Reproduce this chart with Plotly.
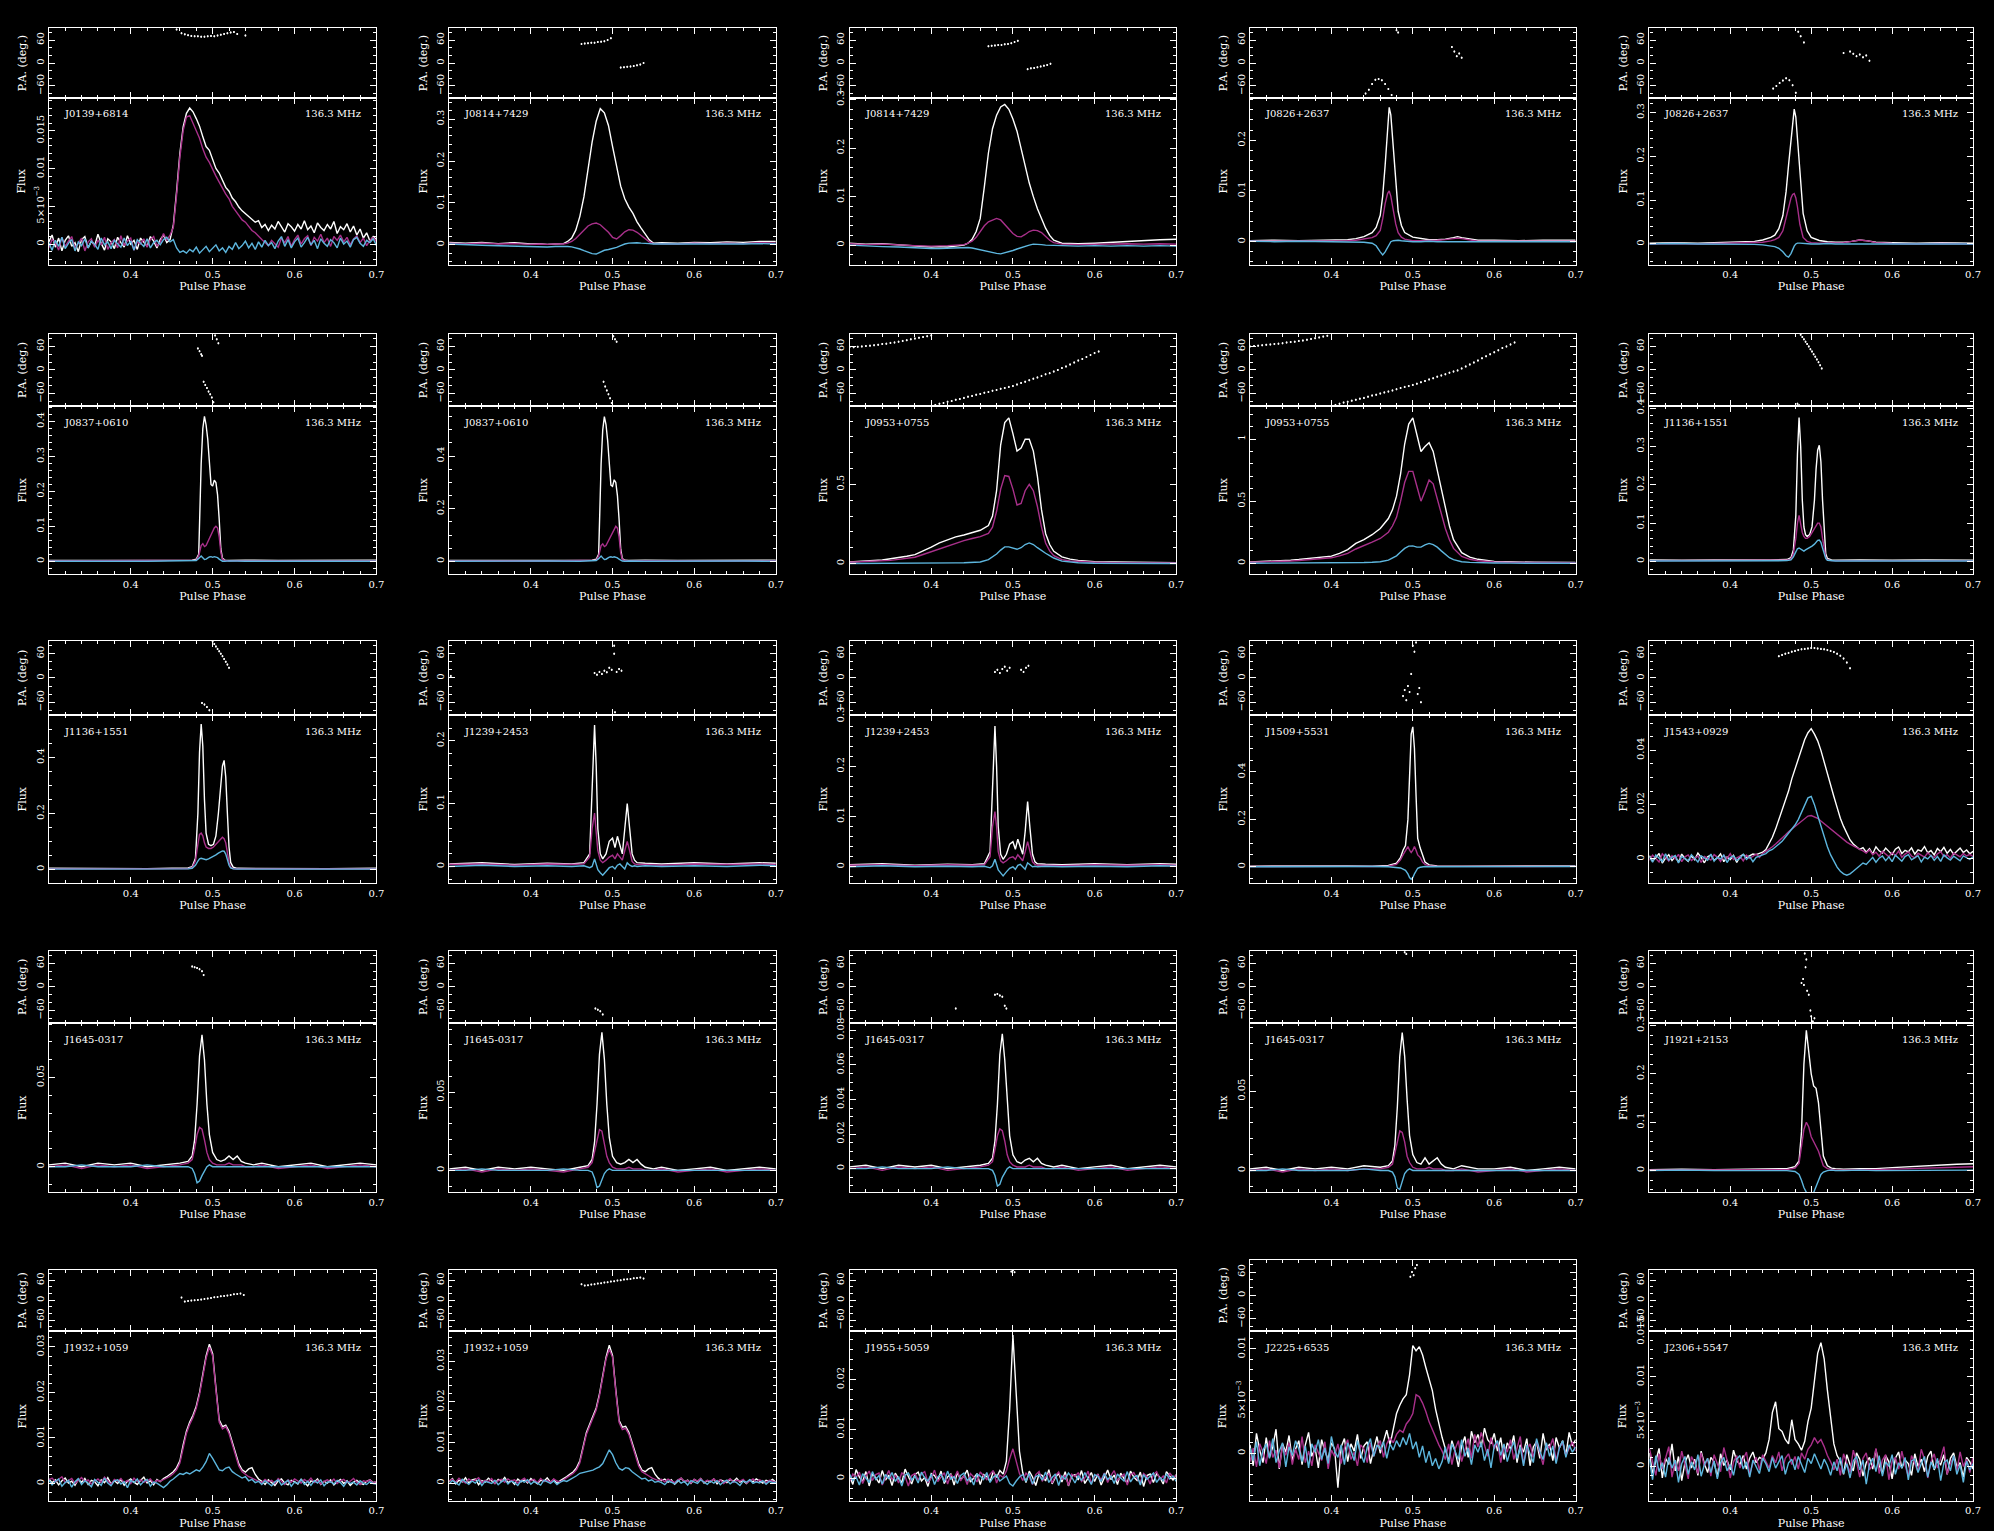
import numpy as np
import plotly.graph_objects as go

# ---------------------------------------------------------------------------
# Pulse profiles at 136.3 MHz: total intensity (I), linear (L), circular (V)
# and polarisation position angle (P.A.) for each observation.
# ---------------------------------------------------------------------------

PSR_NAMES = ["J0139+6814", "J0814+7429", "J0814+7429", "J0826+2637", "J0826+2637",
             "J0837+0610", "J0837+0610", "J0953+0755", "J0953+0755", "J1136+1551",
             "J1136+1551", "J1239+2453", "J1239+2453", "J1509+5531", "J1543+0929",
             "J1645-0317", "J1645-0317", "J1645-0317", "J1645-0317", "J1921+2153",
             "J1932+1059", "J1932+1059", "J1955+5059", "J2225+6535", "J2306+5547"]
FREQ_LABEL = "136.3 MHz"

# 101 phase bins used by the low S/N profiles
PHASE_101 = np.round(np.linspace(0.3, 0.7, 101), 3)

# --- J0139+6814 (flux in units of 1e-3) ---
p01_I = [0.3, 1.2, -0.4, 0.8, -0.9, 0.5, 1.1, -0.3, 0.2, -1.0, 0.6, 1.0, -0.5, 0.4, -0.2, 1.3, 0.1, -0.8, 0.7, 0.3,
         -0.6, 0.9, 0.2, -0.4, 1.1, 0.0, 0.5, -0.7, 0.8, 0.3, -0.3, 1.0, 0.4, -0.5, 0.6, 1.2, 0.2, 0.6,
         2.5, 7.0, 12.0, 15.5, 17.3, 18.0, 17.5, 16.6, 15.6, 14.2, 12.9, 12.4, 11.2, 10.0, 9.4, 8.5, 7.5, 7.0, 6.1, 5.6,
         4.9, 4.4, 4.0, 3.6, 3.3, 2.9, 3.1, 2.2, 2.6, 1.8, 2.5, 2.0, 3.0, 2.2, 1.6, 2.7, 2.3, 1.7, 2.6, 2.0,
         3.1, 1.9, 2.4, 1.5, 2.8, 2.2, 1.8, 2.6, 2.0, 3.0, 1.4, 2.3, 1.9, 2.7, 1.6, 2.4, 1.2, 2.0, 0.8, 1.5, 0.4, 1.0, 0.6]
p01_L = [-0.5, 0.6, 0.2, -0.8, 0.9, -0.3, 0.4, 1.0, -0.6, 0.1, 0.8, -0.9, 0.3, 0.7, -0.4, 0.5, -0.1, 0.9, -0.7, 0.2,
         0.6, -0.5, 1.1, -0.2, 0.4, 0.8, -0.8, 0.3, 0.0, 0.7, -0.4, 0.6, 1.0, -0.3, 0.2, 1.4, 0.5, 1.2,
         2.2, 6.5, 11.5, 15.0, 16.8, 17.0, 16.0, 15.0, 14.0, 12.6, 11.5, 10.8, 9.8, 9.0, 8.2, 7.3, 6.6, 6.0, 5.0, 4.4,
         3.8, 3.2, 2.9, 2.4, 1.8, 1.5, 1.0, 0.6, 0.2, -0.2, 0.5, 0.1, -0.4, 0.8, 0.2, 1.0, -0.3, 0.6, 1.2, 0.0,
         0.7, 1.1, -0.2, 0.9, 0.4, 1.3, 0.2, 0.8, -0.3, 1.0, 0.5, 1.2, 0.3, 0.9, -0.1, 0.7, 1.1, 0.2, 0.8, -0.2, 0.5, 0.9, 0.3]
p01_V = [0.2, -0.8, 0.5, -0.3, 0.9, -0.6, 0.1, 0.6, -0.9, 0.3, -0.2, 0.7, -0.5, 0.4, 0.0, -0.7, 0.8, -0.1, 0.3, -0.6,
         0.5, 0.1, -0.4, 0.8, -0.2, 0.4, -0.8, 0.6, 0.1, -0.3, 0.7, -0.5, 0.2, 0.5, -0.1, 0.6, 0.9, 0.3,
         0.6, -0.5, -1.1, -0.9, -1.2, -0.7, -1.0, -0.4, -1.2, -0.8, -0.3, -1.0, -0.6, -0.1, -0.9, -0.5, -1.1, -0.3, -0.7, 0.2,
         -0.6, -0.2, 0.4, -0.5, 0.1, -0.7, 0.3, -0.4, 0.5, -0.2, 0.2, -0.6, 0.4, 1.0, -0.3, 0.6, -0.5, 0.3, 0.8, -0.4,
         0.2, 0.9, -0.1, 0.5, -0.6, 0.7, 0.1, -0.3, 0.6, 0.2, -0.5, 0.8, 0.0, 0.4, -0.4, 0.6, 0.9, 0.1, -0.3, 0.5, 0.2, 0.7, -0.2]
p01_pa_phase = [0.456, 0.462, 0.466, 0.47, 0.474, 0.478, 0.482, 0.486, 0.49, 0.494, 0.498, 0.502, 0.506, 0.51, 0.514,
                0.518, 0.522, 0.526, 0.53, 0.54]
p01_pa = [88, 78, 75, 73, 71, 70, 70, 69, 69, 70, 71, 70, 72, 74, 76, 78, 80, 81, 76, 72]

# --- J0814+7429 (two observations) ---
p02_phase = [0.3, 0.32, 0.34, 0.36, 0.38, 0.4, 0.41, 0.42, 0.43, 0.44, 0.445, 0.45, 0.455, 0.46, 0.465, 0.47, 0.475,
             0.48, 0.485, 0.49, 0.495, 0.5, 0.505, 0.51, 0.515, 0.52, 0.525, 0.53, 0.535, 0.54, 0.545, 0.55, 0.56,
             0.58, 0.6, 0.62, 0.64, 0.66, 0.68, 0.7]
p02_I = [0.006, 0.004, 0.006, 0.003, 0.005, 0.002, 0.003, 0.001, 0.002, 0.003, 0.008, 0.016, 0.035, 0.068, 0.115, 0.18,
         0.245, 0.295, 0.325, 0.315, 0.285, 0.235, 0.19, 0.14, 0.11, 0.09, 0.075, 0.055, 0.04, 0.025, 0.012, 0.004,
         0.005, 0.004, 0.006, 0.005, 0.007, 0.006, 0.008, 0.008]
p02_L = [0.004, 0.002, 0.004, 0.002, 0.003, 0.001, 0.002, 0.001, 0.002, 0.002, 0.004, 0.008, 0.015, 0.025, 0.035, 0.045,
         0.05, 0.052, 0.048, 0.04, 0.03, 0.018, 0.014, 0.022, 0.031, 0.036, 0.035, 0.03, 0.022, 0.014, 0.007, 0.003,
         0.003, 0.002, 0.004, 0.003, 0.004, 0.003, 0.005, 0.004]
p02_V = [0.002, 0.0, -0.001, -0.002, -0.003, -0.004, -0.005, -0.005, -0.004, -0.003, -0.004, -0.005, -0.007, -0.01,
         -0.014, -0.018, -0.021, -0.022, -0.018, -0.013, -0.011, -0.009, -0.006, -0.002, 0.002, 0.004, 0.005, 0.005,
         0.004, 0.004, 0.003, 0.002, 0.002, 0.001, 0.002, 0.001, 0.002, 0.002, 0.003, 0.002]
p02_pa_phase = [0.462, 0.466, 0.47, 0.474, 0.478, 0.482, 0.486, 0.49, 0.494, 0.498, 0.51, 0.514, 0.518, 0.522, 0.526,
                0.53, 0.534, 0.538]
p02_pa = [50, 51, 52, 53, 53, 55, 56, 57, 60, 65, -12, -11, -10, -9, -8, -6, -4, 0]

p03_phase = p02_phase
p03_I = [0.004, 0.002, 0.003, 0.001, -0.002, -0.004, -0.003, -0.004, -0.002, 0.0, 0.004, 0.012, 0.028, 0.055, 0.12,
         0.19, 0.24, 0.268, 0.285, 0.29, 0.28, 0.26, 0.235, 0.2, 0.16, 0.128, 0.1, 0.075, 0.055, 0.035, 0.02, 0.01,
         0.004, 0.003, 0.004, 0.006, 0.008, 0.009, 0.011, 0.012]
p03_L = [0.003, 0.001, 0.002, 0.0, -0.001, -0.002, -0.002, -0.001, 0.0, 0.001, 0.004, 0.008, 0.016, 0.028, 0.04, 0.048,
         0.052, 0.055, 0.052, 0.042, 0.032, 0.024, 0.018, 0.017, 0.022, 0.028, 0.031, 0.03, 0.026, 0.018, 0.01, 0.005,
         0.002, 0.001, 0.002, 0.002, 0.003, 0.002, 0.003, 0.002]
p03_V = [0.0, -0.002, -0.003, -0.004, -0.006, -0.007, -0.007, -0.006, -0.005, -0.004, -0.005, -0.006, -0.008, -0.01,
         -0.012, -0.014, -0.016, -0.017, -0.018, -0.016, -0.013, -0.011, -0.008, -0.005, -0.002, 0.0, 0.002, 0.002,
         0.001, 0.0, 0.0, -0.001, -0.001, -0.002, -0.001, -0.002, -0.001, -0.002, -0.001, -0.002]
p03_pa_phase = [0.47, 0.474, 0.478, 0.482, 0.486, 0.49, 0.494, 0.498, 0.502, 0.506, 0.518, 0.522, 0.526, 0.53, 0.534,
                0.538, 0.542, 0.546]
p03_pa = [44, 45, 46, 47, 47, 49, 50, 52, 55, 58, -16, -14, -13, -11, -9, -7, -5, -2]

# --- J0826+2637 (two observations) ---
p04_phase = [0.3, 0.33, 0.36, 0.39, 0.42, 0.43, 0.44, 0.45, 0.455, 0.46, 0.463, 0.466, 0.469, 0.471, 0.473, 0.476,
             0.479, 0.482, 0.486, 0.49, 0.5, 0.51, 0.52, 0.53, 0.54, 0.55, 0.555, 0.56, 0.57, 0.58, 0.6, 0.63, 0.66, 0.7]
p04_I = [0.002, 0.003, 0.002, 0.003, 0.004, 0.006, 0.01, 0.018, 0.028, 0.052, 0.09, 0.15, 0.22, 0.265, 0.25, 0.18,
         0.11, 0.06, 0.032, 0.018, 0.009, 0.006, 0.004, 0.004, 0.005, 0.008, 0.01, 0.008, 0.005, 0.003, 0.003, 0.002,
         0.003, 0.003]
p04_L = [0.001, 0.001, 0.001, 0.002, 0.002, 0.003, 0.005, 0.008, 0.012, 0.022, 0.045, 0.075, 0.095, 0.1, 0.09, 0.06,
         0.035, 0.018, 0.009, 0.005, 0.002, 0.002, 0.002, 0.003, 0.004, 0.006, 0.007, 0.006, 0.003, 0.001, 0.001,
         0.001, 0.001, 0.001]
p04_V = [0.001, 0.0, 0.001, 0.0, 0.0, 0.0, -0.001, -0.003, -0.008, -0.02, -0.026, -0.02, -0.01, -0.004, 0.0, 0.002,
         0.003, 0.003, 0.002, 0.001, 0.0, 0.0, 0.001, 0.0, 0.0, 0.0, 0.001, 0.0, 0.0, 0.0, 0.001, 0.0, 0.0, 0.0]
p04_pa_phase = [0.442, 0.446, 0.45, 0.454, 0.458, 0.462, 0.466, 0.47, 0.474, 0.48, 0.482, 0.548, 0.551, 0.554, 0.557, 0.56]
p04_pa = [-80, -70, -55, -44, -42, -45, -55, -68, -84, 86, 80, 42, 30, 18, 25, 14]

p05_phase = [0.3, 0.33, 0.36, 0.39, 0.42, 0.43, 0.44, 0.45, 0.455, 0.46, 0.465, 0.469, 0.472, 0.475, 0.477, 0.479,
             0.481, 0.483, 0.486, 0.49, 0.495, 0.5, 0.51, 0.52, 0.53, 0.54, 0.55, 0.56, 0.57, 0.58, 0.6, 0.63, 0.66, 0.7]
p05_I = [0.002, 0.003, 0.002, 0.003, 0.004, 0.006, 0.009, 0.015, 0.02, 0.035, 0.065, 0.12, 0.18, 0.24, 0.285, 0.308,
         0.29, 0.24, 0.15, 0.07, 0.03, 0.015, 0.008, 0.005, 0.004, 0.004, 0.006, 0.009, 0.007, 0.004, 0.003, 0.002,
         0.003, 0.002]
p05_L = [0.0, 0.001, 0.0, 0.001, 0.002, 0.003, 0.004, 0.007, 0.01, 0.015, 0.03, 0.06, 0.085, 0.105, 0.113, 0.115,
         0.105, 0.085, 0.045, 0.015, 0.006, 0.003, 0.002, 0.002, 0.002, 0.003, 0.006, 0.009, 0.007, 0.003, 0.001, 0.0,
         0.001, 0.0]
p05_V = [0.0, 0.001, 0.0, 0.0, 0.0, -0.001, -0.002, -0.004, -0.006, -0.01, -0.018, -0.027, -0.03, -0.022, -0.012,
         -0.005, 0.0, 0.002, 0.002, 0.001, 0.0, 0.0, 0.0, 0.001, 0.0, 0.0, 0.0, 0.0, 0.001, 0.0, 0.0, 0.0, 0.0, 0.0]
p05_pa_phase = [0.453, 0.457, 0.461, 0.465, 0.469, 0.473, 0.477, 0.481, 0.484, 0.487, 0.491, 0.54, 0.548, 0.552, 0.556,
                0.56, 0.564, 0.568, 0.572]
p05_pa = [-67, -60, -52, -46, -40, -45, -58, -78, 82, 70, 54, 26, 30, 24, 18, 22, 15, 20, 6]

# --- J0837+0610 (two observations) ---
p06_phase = [0.3, 0.34, 0.38, 0.42, 0.46, 0.475, 0.48, 0.483, 0.486, 0.488, 0.49, 0.492, 0.494, 0.496, 0.498, 0.5,
             0.502, 0.504, 0.506, 0.508, 0.51, 0.512, 0.515, 0.52, 0.54, 0.58, 0.62, 0.66, 0.7]
p06_I = [0.002, 0.003, 0.002, 0.002, 0.003, 0.003, 0.006, 0.02, 0.28, 0.38, 0.415, 0.39, 0.35, 0.28, 0.22, 0.215,
         0.232, 0.225, 0.19, 0.12, 0.035, 0.008, 0.003, 0.002, 0.003, 0.002, 0.003, 0.002, 0.003]
p06_L = [0.001, 0.001, 0.001, 0.001, 0.001, 0.002, 0.003, 0.015, 0.045, 0.05, 0.042, 0.045, 0.055, 0.065, 0.075, 0.085,
         0.095, 0.1, 0.095, 0.07, 0.025, 0.005, 0.002, 0.001, 0.001, 0.001, 0.001, 0.001, 0.001]
p06_V = [0.0, 0.001, 0.0, 0.0, 0.001, 0.0, 0.002, 0.008, 0.015, 0.01, 0.005, 0.006, 0.01, 0.012, 0.013, 0.011, 0.013,
         0.012, 0.01, 0.006, 0.002, 0.0, 0.0, 0.001, 0.0, 0.0, 0.001, 0.0, 0.0]
p06_pa_phase = [0.482, 0.484, 0.486, 0.487, 0.489, 0.491, 0.493, 0.495, 0.497, 0.499, 0.501, 0.503, 0.505, 0.507]
p06_pa = [55, 48, 40, 36, -30, -38, -46, -55, -62, -70, -82, 88, 78, 68]

p07_phase = p06_phase
p07_I = [0.003, 0.004, 0.003, 0.003, 0.004, 0.004, 0.008, 0.027, 0.37, 0.5, 0.55, 0.52, 0.46, 0.37, 0.29, 0.285, 0.31,
         0.3, 0.25, 0.16, 0.046, 0.01, 0.004, 0.003, 0.004, 0.003, 0.004, 0.003, 0.004]
p07_L = [0.001, 0.002, 0.001, 0.001, 0.002, 0.003, 0.004, 0.02, 0.06, 0.066, 0.056, 0.06, 0.073, 0.086, 0.1, 0.113,
         0.126, 0.133, 0.126, 0.093, 0.033, 0.007, 0.003, 0.001, 0.002, 0.001, 0.002, 0.001, 0.002]
p07_V = [0.0, 0.001, 0.0, 0.001, 0.0, 0.001, 0.003, 0.01, 0.02, 0.013, 0.007, 0.008, 0.013, 0.016, 0.017, 0.015, 0.017,
         0.016, 0.013, 0.008, 0.003, 0.001, 0.0, 0.001, 0.0, 0.001, 0.0, 0.001, 0.0]
p07_pa_phase = [0.489, 0.491, 0.493, 0.495, 0.497, 0.499, 0.501, 0.503, 0.505]
p07_pa = [-30, -42, -52, -62, -72, -84, 86, 78, 72]

# --- J0953+0755 (two observations) ---
p08_phase = [0.3, 0.32, 0.34, 0.35, 0.36, 0.37, 0.38, 0.39, 0.4, 0.41, 0.42, 0.43, 0.44, 0.45, 0.46, 0.47, 0.475, 0.48,
             0.485, 0.49, 0.495, 0.5, 0.505, 0.51, 0.515, 0.52, 0.525, 0.53, 0.535, 0.54, 0.545, 0.55, 0.56, 0.57,
             0.58, 0.6, 0.62, 0.65, 0.7]
p08_I = [0.01, 0.015, 0.022, 0.03, 0.037, 0.046, 0.056, 0.078, 0.104, 0.13, 0.15, 0.168, 0.18, 0.195, 0.21, 0.24, 0.3,
         0.46, 0.75, 0.89, 0.92, 0.82, 0.71, 0.73, 0.785, 0.785, 0.71, 0.55, 0.34, 0.19, 0.12, 0.077, 0.042, 0.028,
         0.02, 0.012, 0.01, 0.008, 0.006]
p08_L = [0.008, 0.011, 0.016, 0.02, 0.026, 0.033, 0.04, 0.057, 0.075, 0.095, 0.11, 0.13, 0.145, 0.158, 0.17, 0.19,
         0.23, 0.33, 0.47, 0.555, 0.55, 0.47, 0.37, 0.38, 0.46, 0.5, 0.46, 0.36, 0.23, 0.13, 0.08, 0.05, 0.025,
         0.016, 0.012, 0.008, 0.006, 0.005, 0.004]
p08_V = [0.0, 0.0, 0.001, 0.001, 0.001, 0.002, 0.002, 0.002, 0.003, 0.003, 0.004, 0.004, 0.005, 0.006, 0.01, 0.025,
         0.04, 0.06, 0.085, 0.105, 0.105, 0.095, 0.09, 0.1, 0.12, 0.13, 0.12, 0.1, 0.08, 0.065, 0.05, 0.035, 0.015,
         0.008, 0.005, 0.002, 0.001, 0.0, 0.0]
p08_pa_phase = [0.3, 0.305, 0.31, 0.315, 0.32, 0.325, 0.33, 0.335, 0.34, 0.345, 0.35, 0.355, 0.36, 0.365, 0.37, 0.375,
                0.38, 0.385, 0.39, 0.395, 0.4,
                0.405, 0.41, 0.415, 0.42, 0.425, 0.43, 0.435, 0.44, 0.445, 0.45, 0.455, 0.46, 0.465, 0.47, 0.475,
                0.48, 0.485, 0.49, 0.495, 0.5, 0.505, 0.51, 0.515, 0.52, 0.525, 0.53, 0.535, 0.54, 0.545, 0.55,
                0.555, 0.56, 0.565, 0.57, 0.575, 0.58, 0.585, 0.59, 0.595, 0.6, 0.605]
p08_pa = [58, 58, 59, 60, 61, 62, 63, 64, 66, 67, 69, 70, 72, 74, 76, 78, 80, 82, 84, 86, 88,
          -89, -86, -84, -81, -79, -76, -74, -71, -68, -66, -63, -61, -58, -56, -53, -51, -48, -46, -43, -41,
          -37, -33, -30, -26, -22, -19, -15, -11, -8, -4, 0, 5, 9, 14, 19, 24, 28, 33, 38, 43, 47]

p09_phase = p08_phase
p09_I = [0.01, 0.014, 0.02, 0.025, 0.03, 0.037, 0.045, 0.05, 0.058, 0.08, 0.11, 0.16, 0.19, 0.23, 0.28, 0.36, 0.43,
         0.54, 0.72, 0.96, 1.12, 1.17, 1.04, 0.9, 0.94, 0.97, 0.9, 0.75, 0.6, 0.43, 0.3, 0.19, 0.085, 0.05, 0.032,
         0.015, 0.01, 0.008, 0.006]
p09_L = [0.008, 0.01, 0.014, 0.018, 0.022, 0.027, 0.033, 0.037, 0.044, 0.06, 0.08, 0.115, 0.14, 0.17, 0.2, 0.25, 0.3,
         0.37, 0.5, 0.65, 0.74, 0.74, 0.62, 0.5, 0.58, 0.67, 0.64, 0.52, 0.4, 0.28, 0.19, 0.12, 0.055, 0.032, 0.02,
         0.01, 0.007, 0.006, 0.004]
p09_V = [0.0, 0.0, 0.001, 0.001, 0.001, 0.002, 0.002, 0.002, 0.003, 0.003, 0.004, 0.005, 0.006, 0.008, 0.012, 0.025,
         0.04, 0.06, 0.09, 0.12, 0.138, 0.14, 0.13, 0.13, 0.148, 0.16, 0.15, 0.13, 0.1, 0.07, 0.045, 0.03, 0.012,
         0.007, 0.004, 0.002, 0.001, 0.0, 0.0]
p09_pa_phase = [0.3, 0.305, 0.31, 0.315, 0.32, 0.325, 0.33, 0.335, 0.34, 0.345, 0.35, 0.355, 0.36, 0.365, 0.37, 0.375,
                0.38, 0.385, 0.39, 0.395,
                0.405, 0.41, 0.415, 0.42, 0.425, 0.43, 0.435, 0.44, 0.445, 0.45, 0.455, 0.46, 0.465, 0.47, 0.475,
                0.48, 0.485, 0.49, 0.495, 0.5, 0.505, 0.51, 0.515, 0.52, 0.525, 0.53, 0.535, 0.54, 0.545, 0.55,
                0.555, 0.56, 0.565, 0.57, 0.575, 0.58, 0.585, 0.59, 0.595, 0.6, 0.605, 0.61, 0.615, 0.62, 0.625]
p09_pa = [60, 61, 62, 63, 64, 65, 66, 67, 68, 70, 71, 72, 74, 75, 77, 79, 81, 83, 85, 87,
          -89, -86, -83, -81, -78, -76, -73, -71, -68, -65, -63, -60, -57, -55, -52, -49, -46, -43, -41, -38,
          -35, -31, -28, -24, -21, -17, -14, -11, -7, -4, -1, 4, 9, 14, 19, 24, 30, 35, 40, 45, 50, 56, 60, 65, 70]

# --- J1136+1551 (two observations) ---
p10_phase = [0.3, 0.34, 0.38, 0.42, 0.45, 0.47, 0.475, 0.478, 0.481, 0.483, 0.485, 0.487, 0.489, 0.491, 0.493, 0.495,
             0.498, 0.501, 0.504, 0.506, 0.508, 0.51, 0.512, 0.514, 0.516, 0.518, 0.52, 0.525, 0.53, 0.56, 0.6, 0.64, 0.7]
p10_I = [0.004, 0.003, 0.004, 0.003, 0.004, 0.005, 0.01, 0.03, 0.12, 0.28, 0.375, 0.3, 0.16, 0.09, 0.07, 0.065, 0.07,
         0.09, 0.16, 0.24, 0.29, 0.303, 0.26, 0.16, 0.07, 0.02, 0.008, 0.004, 0.003, 0.004, 0.003, 0.004, 0.003]
p10_L = [0.002, 0.002, 0.002, 0.002, 0.002, 0.003, 0.006, 0.02, 0.06, 0.1, 0.12, 0.1, 0.075, 0.065, 0.06, 0.06, 0.065,
         0.075, 0.085, 0.095, 0.1, 0.1, 0.09, 0.06, 0.03, 0.01, 0.004, 0.002, 0.002, 0.002, 0.002, 0.002, 0.002]
p10_V = [0.001, 0.001, 0.002, 0.001, 0.002, 0.002, 0.004, 0.012, 0.025, 0.033, 0.035, 0.032, 0.028, 0.027, 0.03,
         0.032, 0.035, 0.04, 0.045, 0.05, 0.055, 0.056, 0.05, 0.035, 0.02, 0.008, 0.003, 0.001, 0.001, 0.001, 0.001,
         0.001, 0.001]
p10_pa_phase = [0.483, 0.485, 0.487, 0.489, 0.491, 0.493, 0.495, 0.497, 0.499, 0.501, 0.503, 0.505, 0.507, 0.509,
                0.511, 0.513]
p10_pa = [-86, -90, 90, 84, 78, 72, 66, 60, 53, 47, 40, 34, 27, 20, 12, 4]

p11_phase = [0.3, 0.34, 0.38, 0.42, 0.45, 0.47, 0.475, 0.479, 0.482, 0.484, 0.486, 0.488, 0.49, 0.492, 0.495, 0.498,
             0.501, 0.504, 0.507, 0.51, 0.512, 0.514, 0.516, 0.518, 0.52, 0.522, 0.525, 0.53, 0.56, 0.6, 0.64, 0.7]
p11_I = [0.004, 0.003, 0.004, 0.003, 0.004, 0.005, 0.01, 0.04, 0.2, 0.42, 0.52, 0.44, 0.25, 0.13, 0.09, 0.085, 0.09,
         0.12, 0.2, 0.31, 0.37, 0.39, 0.33, 0.2, 0.08, 0.025, 0.008, 0.004, 0.003, 0.004, 0.003, 0.004]
p11_L = [0.002, 0.002, 0.002, 0.002, 0.002, 0.003, 0.006, 0.03, 0.09, 0.125, 0.13, 0.12, 0.095, 0.08, 0.075, 0.075,
         0.08, 0.09, 0.1, 0.11, 0.115, 0.11, 0.095, 0.06, 0.025, 0.008, 0.003, 0.002, 0.002, 0.002, 0.002, 0.002]
p11_V = [0.001, 0.001, 0.002, 0.001, 0.002, 0.002, 0.004, 0.015, 0.03, 0.038, 0.04, 0.038, 0.035, 0.035, 0.038, 0.042,
         0.047, 0.052, 0.058, 0.063, 0.066, 0.065, 0.055, 0.035, 0.015, 0.005, 0.002, 0.001, 0.001, 0.001, 0.001,
         0.001]
p11_pa_phase = [0.487, 0.49, 0.493, 0.496, 0.5, 0.502, 0.504, 0.506, 0.508, 0.51, 0.512, 0.514, 0.516, 0.518, 0.52]
p11_pa = [-62, -66, -72, -80, 90, 84, 78, 72, 66, 60, 54, 47, 40, 33, 25]

# --- J1239+2453 (two observations) ---
p12_phase = [0.3, 0.34, 0.38, 0.42, 0.45, 0.465, 0.472, 0.475, 0.478, 0.48, 0.482, 0.485, 0.488, 0.492, 0.496, 0.5,
             0.503, 0.506, 0.509, 0.512, 0.515, 0.518, 0.521, 0.524, 0.527, 0.53, 0.54, 0.56, 0.6, 0.64, 0.68, 0.7]
p12_I = [0.004, 0.006, 0.003, 0.005, 0.004, 0.006, 0.02, 0.12, 0.225, 0.16, 0.06, 0.02, 0.012, 0.02, 0.04, 0.045,
         0.03, 0.048, 0.035, 0.02, 0.06, 0.1, 0.06, 0.02, 0.01, 0.006, 0.005, 0.004, 0.006, 0.004, 0.006, 0.005]
p12_L = [0.003, 0.004, 0.002, 0.004, 0.003, 0.004, 0.015, 0.06, 0.085, 0.06, 0.025, 0.01, 0.006, 0.01, 0.015, 0.018,
         0.012, 0.02, 0.015, 0.01, 0.025, 0.04, 0.025, 0.008, 0.004, 0.003, 0.003, 0.002, 0.004, 0.003, 0.004, 0.003]
p12_V = [0.0, 0.002, 0.0, 0.001, 0.0, 0.001, -0.002, 0.0, 0.012, 0.004, -0.005, -0.01, -0.014, -0.008, -0.002, 0.0,
         -0.004, 0.002, 0.004, 0.0, -0.004, 0.006, 0.002, 0.0, 0.001, 0.0, 0.001, 0.0, 0.001, 0.0, 0.002, 0.001]
p12_pa_phase = [0.302, 0.478, 0.481, 0.484, 0.487, 0.49, 0.493, 0.496, 0.499, 0.502, 0.502, 0.503, 0.505, 0.508, 0.511]
p12_pa = [5, 12, 8, 15, 10, 18, 14, 25, 20, 80, 60, -85, 15, 22, 18]

p13_phase = p12_phase
p13_I = [0.004, 0.006, 0.003, 0.005, 0.004, 0.006, 0.03, 0.16, 0.28, 0.2, 0.08, 0.025, 0.015, 0.025, 0.045, 0.05,
         0.035, 0.055, 0.04, 0.025, 0.07, 0.13, 0.075, 0.025, 0.01, 0.006, 0.005, 0.004, 0.006, 0.004, 0.006, 0.005]
p13_L = [0.003, 0.004, 0.002, 0.004, 0.003, 0.004, 0.02, 0.08, 0.11, 0.08, 0.03, 0.012, 0.008, 0.012, 0.018, 0.02,
         0.015, 0.024, 0.018, 0.012, 0.03, 0.05, 0.03, 0.01, 0.005, 0.003, 0.003, 0.002, 0.004, 0.003, 0.004, 0.003]
p13_V = [0.0, 0.002, 0.0, 0.001, 0.0, 0.001, -0.002, 0.002, 0.015, 0.005, -0.006, -0.012, -0.018, -0.01, -0.003, 0.0,
         -0.005, 0.003, 0.005, 0.0, -0.005, 0.008, 0.003, 0.0, 0.001, 0.0, 0.001, 0.0, 0.001, 0.0, 0.002, 0.001]
p13_pa_phase = [0.478, 0.481, 0.484, 0.487, 0.49, 0.493, 0.496, 0.51, 0.513, 0.516, 0.519]
p13_pa = [15, 20, 12, 22, 28, 18, 25, 20, 15, 25, 30]

# --- J1509+5531 ---
p14_phase = [0.3, 0.34, 0.38, 0.42, 0.45, 0.47, 0.48, 0.485, 0.488, 0.491, 0.494, 0.496, 0.498, 0.5, 0.502, 0.504,
             0.506, 0.509, 0.512, 0.515, 0.52, 0.53, 0.56, 0.6, 0.64, 0.7]
p14_I = [0.003, 0.004, 0.003, 0.004, 0.003, 0.006, 0.015, 0.04, 0.07, 0.09, 0.2, 0.4, 0.56, 0.59, 0.5, 0.3, 0.12, 0.08,
         0.05, 0.02, 0.008, 0.004, 0.003, 0.004, 0.003, 0.004]
p14_L = [0.001, 0.002, 0.001, 0.002, 0.001, 0.003, 0.01, 0.03, 0.05, 0.07, 0.085, 0.07, 0.06, 0.07, 0.085, 0.07, 0.05,
         0.04, 0.02, 0.01, 0.004, 0.002, 0.001, 0.002, 0.001, 0.002]
p14_V = [0.0, 0.001, 0.0, 0.0, 0.001, 0.0, -0.002, -0.005, -0.01, -0.015, -0.03, -0.045, -0.052, -0.045, -0.03, -0.015,
         -0.006, -0.002, 0.0, 0.001, 0.0, 0.0, 0.001, 0.0, 0.0, 0.001]
p14_pa_phase = [0.488, 0.49, 0.492, 0.494, 0.496, 0.498, 0.5, 0.502, 0.504, 0.506, 0.508, 0.51]
p14_pa = [-45, -30, -55, -20, -35, 10, 80, 65, 88, -40, -25, -60]

# --- J1543+0929 (flux in units of 1e-3) ---
p15_I = [1.2, -0.8, 0.5, 2.0, -1.5, 0.3, 1.6, -0.6, 0.9, -1.2, 1.8, 0.2, -0.9, 1.1, -0.3, 2.2, 0.6, -1.4, 0.8, 1.5,
         -0.5, 0.4, 1.9, -1.0, 0.7, -0.2, 1.3, -1.3, 0.9, 1.7, 0.6, 1.2, 1.8, 1.6, 2.2,
         2.5, 3.5, 5.5, 8.0, 11.0, 14.5, 17.5, 21.5, 25.0, 29.5, 33.0, 36.5, 40.5, 44.0, 46.5, 48.0, 46.0, 43.5, 40.0,
         35.5, 31.5, 27.0, 23.0, 19.0, 15.0, 12.0, 9.5, 7.0, 5.5, 4.5, 3.5,
         4.2, 2.5, 3.8, 1.9, 4.5, 3.0, 2.2, 4.0, 2.8, 1.6, 3.6, 4.4, 2.0, 3.2, 2.6, 4.1, 1.8, 3.4, 2.9, 4.6,
         2.3, 3.1, 1.5, 3.9, 2.7, 4.3, 2.1, 3.5, 1.7, 3.0, 4.0, 2.4, 3.3, 1.9, 2.8]
p15_L = [-0.5, 1.4, 0.2, -1.1, 1.9, 0.6, -0.8, 1.2, 0.0, 1.7, -1.0, 0.8, 1.5, -0.6, 0.4, 1.1, -1.3, 0.9, 0.3, -0.4,
         1.6, 0.7, -0.9, 1.3, 0.1, 2.0, -0.2, 0.5, 1.0, -0.7, 1.4, 0.2, 0.9, 1.8, 0.6,
         2.0, 2.8, 3.5, 4.5, 5.5, 6.5, 7.5, 8.8, 10.0, 11.0, 12.0, 13.0, 14.0, 15.0, 15.8, 16.0, 15.5, 15.0, 14.0, 13.0,
         12.0, 11.0, 10.0, 9.0, 8.0, 7.0, 6.2, 5.5, 4.8, 4.0, 3.5,
         3.0, 2.2, 3.4, 1.6, 2.5, 1.0, 2.8, 1.9, 0.8, 2.4, 1.3, 2.9, 0.6, 1.8, 2.6, 1.1, 0.4, 2.1, 1.5, 0.7,
         2.3, 1.2, 0.5, 1.9, 2.7, 0.9, 1.6, 0.3, 2.2, 1.4, 0.8, 2.0, 1.1, 1.7, 0.9]
p15_V = [0.8, -1.2, 1.5, 0.3, -0.9, 1.9, -0.4, 0.6, 1.3, -1.5, 0.9, 0.1, -0.7, 1.6, 0.4, -1.1, 1.2, 0.2, -0.5, 1.8,
         -0.8, 0.7, 0.0, 1.4, -1.3, 0.5, 1.1, -0.6, 0.3, 1.7, -0.2, 0.9, -1.0, 0.6, 1.2,
         1.5, 2.0, 3.0, 3.5, 4.5, 5.5, 6.5, 8.0, 9.5, 11.0, 12.5, 14.5, 17.0, 20.0, 22.5, 23.0, 20.0, 16.0, 12.0, 8.0,
         4.5, 1.5, -1.0, -3.0, -4.5, -5.5, -6.0, -5.5, -4.5, -3.5, -2.5,
         -1.5, -2.0, -0.5, 0.6, -1.2, 0.3, 1.1, -0.6, 0.8, -1.0, 1.4, 0.2, -0.8, 0.9, 1.6, -0.3, 0.5, 1.2, -1.1, 0.7,
         0.0, 1.3, -0.5, 0.9, -0.9, 1.5, 0.4, -0.4, 1.0, 0.2, -0.7, 1.1, 0.6, -0.2, 0.8]
p15_pa_phase = [0.46, 0.464, 0.468, 0.472, 0.476, 0.48, 0.484, 0.488, 0.492, 0.496, 0.5, 0.504, 0.508, 0.512, 0.516,
                0.52, 0.524, 0.528, 0.532, 0.536, 0.54, 0.544, 0.548]
p15_pa = [54, 57, 60, 62, 65, 67, 69, 71, 72, 73, 74, 74, 73, 72, 71, 69, 67, 64, 60, 55, 48, 38, 24]

# --- J1645-0317 (four observations) ---
p16_phase = [0.3, 0.32, 0.34, 0.36, 0.38, 0.4, 0.42, 0.44, 0.46, 0.47, 0.475, 0.478, 0.481, 0.484, 0.487, 0.49, 0.493,
             0.496, 0.5, 0.505, 0.51, 0.515, 0.52, 0.525, 0.53, 0.535, 0.54, 0.55, 0.56, 0.58, 0.6, 0.62, 0.64, 0.66,
             0.68, 0.7]
p16_I = [0.001, 0.002, 0.0, 0.002, 0.001, 0.002, 0.0, 0.001, 0.002, 0.003, 0.006, 0.015, 0.035, 0.062, 0.074, 0.06,
         0.035, 0.018, 0.008, 0.004, 0.003, 0.004, 0.006, 0.004, 0.006, 0.003, 0.002, 0.001, 0.002, 0.0, 0.001, 0.002,
         0.0, 0.001, 0.002, 0.001]
p16_L = [0.0, 0.001, -0.001, 0.001, 0.0, 0.001, -0.001, 0.0, 0.001, 0.002, 0.004, 0.01, 0.018, 0.022, 0.021, 0.015,
         0.008, 0.004, 0.002, 0.001, 0.001, 0.001, 0.002, 0.001, 0.001, 0.001, 0.0, 0.0, 0.001, -0.001, 0.0, 0.001,
         -0.001, 0.0, 0.001, 0.0]
p16_V = [0.0, 0.0, 0.001, 0.0, 0.0, 0.0, 0.001, 0.0, 0.0, 0.0, -0.001, -0.004, -0.009, -0.008, -0.005, -0.002, 0.0,
         0.001, 0.0, 0.0, 0.0, 0.0, 0.0, 0.0, 0.0, 0.0, 0.0, 0.0, 0.0, 0.0, 0.0, 0.0, 0.0, 0.0, 0.0, 0.0]
p16_pa_phase = [0.475, 0.478, 0.481, 0.484, 0.487, 0.489]
p16_pa = [52, 50, 48, 45, 40, 30]

p17_phase = p16_phase
p17_I = [0.001, 0.002, 0.0, 0.002, 0.001, 0.002, 0.001, 0.0, 0.002, 0.003, 0.007, 0.018, 0.042, 0.074, 0.088, 0.071,
         0.042, 0.021, 0.009, 0.005, 0.004, 0.005, 0.007, 0.005, 0.007, 0.004, 0.002, 0.001, 0.002, 0.0, 0.001, 0.002,
         0.0, 0.001, 0.002, 0.001]
p17_L = [0.0, 0.001, -0.001, 0.001, 0.0, 0.001, 0.0, -0.001, 0.001, 0.002, 0.005, 0.012, 0.021, 0.026, 0.025, 0.018,
         0.009, 0.005, 0.002, 0.001, 0.001, 0.001, 0.002, 0.001, 0.001, 0.001, 0.0, 0.0, 0.001, -0.001, 0.0, 0.001,
         -0.001, 0.0, 0.001, 0.0]
p17_V = [0.0, 0.0, 0.001, 0.0, 0.0, 0.0, 0.0, 0.001, 0.0, 0.0, -0.001, -0.005, -0.011, -0.01, -0.006, -0.002, 0.0,
         0.001, 0.0, 0.0, 0.0, 0.0, 0.0, 0.0, 0.0, 0.0, 0.0, 0.0, 0.0, 0.0, 0.0, 0.0, 0.0, 0.0, 0.0, 0.0]
p17_pa_phase = [0.479, 0.482, 0.485, 0.488]
p17_pa = [-55, -58, -62, -70]

p18_phase = p16_phase
p18_I = [0.001, 0.002, 0.0, 0.002, 0.001, 0.002, 0.0, 0.001, 0.002, 0.003, 0.006, 0.016, 0.037, 0.066, 0.078, 0.063,
         0.037, 0.019, 0.008, 0.004, 0.003, 0.005, 0.006, 0.004, 0.006, 0.003, 0.002, 0.001, 0.002, 0.0, 0.001, 0.002,
         0.0, 0.001, 0.002, 0.001]
p18_L = [0.0, 0.001, -0.001, 0.001, 0.0, 0.001, -0.001, 0.0, 0.001, 0.002, 0.004, 0.011, 0.019, 0.023, 0.022, 0.016,
         0.008, 0.004, 0.002, 0.001, 0.001, 0.001, 0.002, 0.001, 0.001, 0.001, 0.0, 0.0, 0.001, -0.001, 0.0, 0.001,
         -0.001, 0.0, 0.001, 0.0]
p18_V = [0.0, 0.0, 0.001, 0.0, 0.0, 0.0, 0.001, 0.0, 0.0, 0.0, -0.001, -0.004, -0.01, -0.009, -0.005, -0.002, 0.0,
         0.001, 0.0, 0.0, 0.0, 0.0, 0.0, 0.0, 0.0, 0.0, 0.0, 0.0, 0.0, 0.0, 0.0, 0.0, 0.0, 0.0, 0.0, 0.0]
p18_pa_phase = [0.43, 0.478, 0.481, 0.484, 0.487, 0.49, 0.492]
p18_pa = [-55, -20, -18, -22, -25, -48, -55]

p19_phase = p16_phase
p19_I = [0.001, 0.002, 0.0, 0.002, 0.001, 0.002, 0.001, 0.003, 0.002, 0.003, 0.006, 0.016, 0.04, 0.072, 0.087, 0.072,
         0.045, 0.022, 0.01, 0.005, 0.004, 0.008, 0.004, 0.006, 0.008, 0.004, 0.002, 0.001, 0.003, 0.001, 0.001, 0.002,
         0.0, 0.001, 0.002, 0.001]
p19_L = [0.0, 0.001, -0.001, 0.001, 0.0, 0.001, 0.0, 0.001, 0.001, 0.002, 0.004, 0.011, 0.02, 0.025, 0.024, 0.018,
         0.009, 0.005, 0.002, 0.001, 0.001, 0.001, 0.002, 0.001, 0.001, 0.001, 0.0, 0.0, 0.001, -0.001, 0.0, 0.001,
         -0.001, 0.0, 0.001, 0.0]
p19_V = [0.0, 0.0, 0.001, 0.0, 0.0, 0.0, 0.0, 0.001, 0.0, 0.0, -0.001, -0.004, -0.011, -0.012, -0.007, -0.002, 0.0,
         0.001, 0.0, 0.0, 0.0, 0.0, 0.0, 0.0, 0.0, 0.0, 0.0, 0.0, 0.0, 0.0, 0.0, 0.0, 0.0, 0.0, 0.0, 0.0]
p19_pa_phase = [0.49, 0.492]
p19_pa = [88, 84]

# --- J1921+2153 ---
p20_phase = [0.3, 0.34, 0.38, 0.42, 0.45, 0.47, 0.48, 0.485, 0.488, 0.491, 0.494, 0.497, 0.5, 0.503, 0.506, 0.509,
             0.512, 0.515, 0.52, 0.525, 0.53, 0.54, 0.56, 0.58, 0.6, 0.62, 0.64, 0.66, 0.68, 0.7]
p20_I = [0.002, 0.003, 0.002, 0.003, 0.003, 0.004, 0.008, 0.02, 0.08, 0.22, 0.29, 0.25, 0.2, 0.175, 0.17, 0.14, 0.08,
         0.03, 0.01, 0.005, 0.004, 0.003, 0.004, 0.004, 0.006, 0.008, 0.01, 0.012, 0.013, 0.014]
p20_L = [0.001, 0.001, 0.001, 0.001, 0.001, 0.002, 0.005, 0.015, 0.05, 0.085, 0.1, 0.09, 0.07, 0.06, 0.05, 0.04, 0.025,
         0.01, 0.004, 0.002, 0.001, 0.001, 0.001, 0.002, 0.003, 0.004, 0.005, 0.006, 0.007, 0.008]
p20_V = [0.0, 0.001, 0.0, 0.0, 0.001, 0.0, -0.002, -0.008, -0.02, -0.035, -0.045, -0.055, -0.058, -0.045, -0.03,
         -0.018, -0.008, -0.003, 0.0, 0.001, 0.0, 0.0, 0.001, 0.0, 0.0, 0.0, 0.001, 0.0, 0.0, 0.001]
p20_pa_phase = [0.488, 0.49, 0.491, 0.493, 0.494, 0.492, 0.495, 0.497, 0.499, 0.5, 0.502, 0.504]
p20_pa = [10, 20, 5, 50, 70, 85, -10, -20, -60, -75, -88, -80]

# --- J1932+1059 (two observations, flux in units of 1e-3) ---
p21_I = [1.0, 0.2, 0.8, -0.3, 0.6, 1.2, 0.1, 0.5, -0.4, 0.9, 0.3, 1.1, -0.2, 0.7, 0.4, -0.5, 0.8, 0.2, 1.3, -0.1,
         0.6, 0.0, 0.9, -0.4, 0.5, 1.0, 0.3, -0.2, 0.7, 1.4, 0.1, 0.6, -0.3, 0.9, 0.4, 1.1,
         1.5, 2.0, 2.6, 3.5, 5.0, 8.5, 11.5, 13.5, 15.0, 17.0, 20.0, 24.0, 28.0, 30.6, 28.5, 21.0, 14.0, 12.5, 12.8, 11.5,
         9.0, 6.5, 4.3, 3.0, 2.5, 3.2, 3.5, 2.0, 1.0,
         0.5, -0.2, 0.8, 0.3, -0.4, 0.6, 1.0, 0.1, -0.3, 0.7, 0.4, -0.1, 0.9, 0.2, -0.5, 0.6, 0.3, 1.0, -0.2, 0.5,
         0.1, 0.8, -0.3, 0.4, 0.9, 0.0, 0.6, -0.4, 0.3, 0.7, 0.1, -0.2, 0.5, 0.8, 0.2, 0.4]
p21_L = [0.8, 1.2, 0.4, 0.9, 1.5, 0.2, 0.7, 1.1, 0.0, 0.6, 1.3, 0.4, 0.8, -0.1, 0.5, 1.0, 0.3, 1.4, 0.6, -0.2,
         0.9, 0.5, 1.1, 0.2, 0.7, 0.0, 1.2, 0.4, 0.8, 0.3, 0.6, 1.0, 0.1, 0.7, 0.5, 0.9,
         1.2, 1.6, 2.2, 3.0, 4.5, 8.0, 11.0, 13.0, 14.5, 16.5, 19.5, 23.5, 27.5, 30.0, 28.0, 20.5, 13.5, 12.0, 12.5, 11.0,
         8.5, 6.0, 3.8, 2.6, 2.0, 1.5, 1.2, 0.8, 0.5,
         0.2, 0.9, 0.4, 0.7, 0.0, 1.1, 0.5, -0.2, 0.8, 0.3, 1.0, 0.6, 0.1, 0.9, 0.4, 1.2, 0.2, 0.7, -0.1, 0.5,
         0.8, 0.3, 1.0, 0.0, 0.6, 0.9, 0.2, 0.5, 1.1, 0.3, -0.2, 0.6, 0.4, 0.8, 0.1, 0.5]
p21_V = [0.8, -0.3, 0.5, 1.0, -0.6, 0.2, 0.7, -0.8, 0.4, 1.1, -0.2, 0.6, 0.0, -0.7, 0.9, 0.3, -0.4, 1.2, 0.1, -0.5,
         0.6, 0.8, -0.1, 0.4, -0.9, 0.7, 0.2, 1.0, -0.3, 0.5, 0.9, -0.6, 0.3, 0.1, -0.4, -0.9,
         -0.3, 0.5, 1.0, 1.6, 2.2, 2.0, 2.4, 2.1, 2.6, 3.0, 2.7, 3.6, 4.8, 6.6, 5.5, 4.3, 3.0, 2.8, 3.4, 3.6,
         2.6, 2.1, 1.6, 1.2, 1.5, 0.6, 0.9, 0.2, 0.5,
         -0.2, 0.6, 0.1, -0.5, 0.4, 0.8, -0.3, 0.2, 0.7, -0.6, 0.3, 0.0, 0.9, -0.2, 0.5, -0.4, 0.6, 0.1, 0.8, -0.5,
         0.3, 0.4, -0.1, 0.7, 0.2, -0.6, 0.5, 0.0, 0.3, -0.3, 0.6, 0.1, -0.2, 0.4, 0.0, -0.1]
p21_pa_phase = [0.462, 0.466, 0.47, 0.474, 0.478, 0.482, 0.486, 0.49, 0.494, 0.498, 0.502, 0.506, 0.51, 0.514, 0.518,
                0.522, 0.526, 0.53, 0.534, 0.538]
p21_pa = [8, -4, -2, -1, 0, 1, 2, 4, 5, 7, 9, 10, 12, 13, 14, 16, 18, 19, 20, 16]

p22_I = [0.4, 1.1, -0.2, 0.7, 0.3, 1.3, 0.0, 0.8, 1.0, -0.4, 0.6, 0.2, 1.2, 0.5, -0.1, 0.9, 0.4, 1.4, 0.1, 0.6,
         -0.3, 1.0, 0.3, 0.8, 0.0, 1.1, 0.5, -0.2, 0.7, 0.4, 1.3, 0.2, 0.9, -0.1, 0.6, 1.0,
         1.6, 2.2, 2.8, 3.8, 5.5, 9.0, 12.5, 14.5, 16.5, 18.5, 22.0, 26.5, 31.0, 34.0, 31.5, 23.0, 15.5, 13.8, 14.0, 12.5,
         10.0, 7.0, 4.8, 3.2, 2.8, 3.5, 3.8, 2.2, 1.2,
         0.6, 1.0, 0.2, 0.8, -0.3, 0.5, 1.2, 0.3, 0.7, -0.1, 0.9, 0.4, 1.1, 0.0, 0.6, 0.3, 1.0, -0.2, 0.8, 0.5,
         0.1, 0.9, 0.4, 1.2, 0.2, 0.6, -0.1, 0.8, 0.3, 1.0, 0.5, 0.0, 0.7, 0.4, 0.9, 0.2]
p22_L = [0.6, 0.9, 0.2, 1.2, 0.5, 0.0, 1.0, 0.4, 0.8, 1.3, 0.1, 0.7, 0.3, 1.1, -0.1, 0.6, 0.9, 0.2, 1.0, 0.5,
         0.8, 0.0, 0.7, 1.2, 0.3, 0.6, 0.9, 0.1, 1.1, 0.4, 0.7, 0.2, 1.0, 0.5, 0.3, 0.8,
         1.3, 1.8, 2.4, 3.3, 5.0, 8.5, 12.0, 14.0, 16.0, 18.0, 21.5, 26.0, 30.5, 33.0, 31.0, 22.5, 15.0, 13.2, 13.5, 12.0,
         9.5, 6.6, 4.2, 2.8, 2.2, 1.8, 1.3, 0.9, 0.6,
         0.9, 0.3, 1.0, 0.5, 0.1, 0.8, 1.2, 0.4, 0.6, 0.0, 0.9, 0.5, 1.1, 0.2, 0.7, 0.4, 1.0, 0.3, 0.8, -0.1,
         0.6, 1.1, 0.2, 0.7, 0.5, 0.9, 0.0, 0.6, 1.0, 0.3, 0.8, 0.4, 0.1, 0.7, 0.5, 0.2]
p22_V = [-0.2, 0.6, 0.1, -0.5, 0.9, 0.3, -0.3, 0.5, 0.0, 0.8, -0.6, 0.4, 0.2, -0.1, 0.7, -0.4, 0.3, 0.9, -0.2, 0.5,
         0.1, -0.6, 0.6, 0.2, 0.8, -0.3, 0.4, 0.0, -0.5, 0.7, 0.3, -0.1, 0.5, -0.4, 0.2, 0.6,
         0.4, 0.8, 1.2, 1.8, 2.4, 2.6, 2.9, 3.0, 3.2, 3.6, 4.0, 4.8, 6.5, 8.2, 7.0, 5.0, 3.6, 3.2, 3.8, 3.6,
         2.8, 2.2, 1.5, 1.0, 1.2, 0.5, 0.8, 0.2, 0.4,
         0.1, -0.4, 0.5, 0.2, -0.2, 0.7, 0.0, 0.4, -0.5, 0.6, 0.3, -0.1, 0.8, 0.2, -0.3, 0.5, 0.0, 0.6, -0.4, 0.3,
         0.7, -0.2, 0.4, 0.1, -0.6, 0.5, 0.2, 0.8, -0.1, 0.3, 0.0, 0.6, -0.3, 0.4, 0.1, 0.2]
p22_pa_phase = p21_pa_phase
p22_pa = [48, 44, 45, 47, 48, 50, 51, 53, 54, 56, 57, 59, 60, 62, 63, 64, 66, 67, 68, 65]

# --- J1955+5059 (flux in units of 1e-3) ---
p23_I = [0.5, -1.2, 1.8, 0.3, -0.6, 1.4, -1.5, 0.9, 0.2, -0.9, 1.6, -0.3, 0.7, -1.4, 1.1, 0.0, -0.8, 1.9, 0.4, -1.1,
         0.8, 1.3, -0.5, 0.2, -1.6, 1.0, 0.6, -0.4, 1.5, -1.0, 0.3, 0.9, -1.3, 1.2, -0.2, 0.5, 1.7, -0.7, 0.1, 1.0,
         -1.2, 0.8, 0.4, -0.6, 1.4, 0.2, 1.6, 0.9,
         3.5, 14.0, 29.0, 17.5, 5.5,
         1.2, -0.8, 1.5, 0.3, -1.4, 0.9, 0.6, -0.5, 1.8, -1.1, 0.2, 1.0, -0.7, 1.4, -1.5, 0.5, 0.8, -0.3, 1.6, -1.0,
         0.1, 1.2, -0.6, 0.9, -1.3, 0.4, 1.7, -0.2, 0.7, -1.2, 1.1, 0.0, -0.9, 1.5, 0.3, -0.4, 1.3, -1.6, 0.6, 0.9,
         -0.8, 1.0, 0.2, -1.1, 1.4, 0.5, -0.3, 0.8]
p23_L = [-0.6, 0.9, 0.2, 1.3, -1.0, 0.5, 1.5, -0.4, 0.8, 1.1, -1.3, 0.3, 1.6, -0.2, 0.7, -0.9, 1.2, 0.4, -1.5, 0.6,
         1.0, -0.3, 0.9, 1.4, -0.8, 0.1, 1.7, -0.6, 0.4, 1.2, -1.1, 0.8, 0.0, 1.5, -0.5, 0.6, -1.2, 1.0, 0.3, -0.7,
         1.3, 0.5, -0.2, 0.9, 1.6, -0.9, 0.7, 0.2,
         1.5, 4.0, 6.0, 3.5, 1.0,
         -0.4, 1.1, 0.3, -1.2, 0.8, 1.4, -0.5, 0.2, 1.0, -0.9, 0.6, 1.3, -0.2, 0.7, -1.4, 0.9, 0.4, 1.2, -0.6, 0.1,
         1.5, -1.0, 0.5, 0.8, -0.3, 1.1, -0.8, 0.6, 1.6, -0.4, 0.2, 0.9, -1.3, 0.7, 1.2, 0.0, -0.7, 1.0, 0.4, -1.1,
         0.8, 1.4, -0.2, 0.5, -0.9, 1.1, 0.3, 0.6]
p23_V = [0.9, -0.4, 0.3, -1.3, 1.0, 0.2, -0.8, 1.4, -0.2, 0.6, -1.1, 0.8, 0.0, 1.2, -0.6, 0.4, -1.5, 0.7, 1.1, -0.3,
         0.5, -0.9, 1.3, 0.1, -0.5, 0.9, -1.2, 0.3, 0.8, -0.7, 1.5, -0.1, 0.4, -1.0, 0.6, 1.1, -0.4, 0.2, -1.3, 0.9,
         0.5, -0.2, 1.2, -0.8, 0.3, 0.7, -0.5, 0.0,
         0.5, -1.0, -1.5, -0.5, 0.3,
         0.8, -0.6, 1.0, -1.1, 0.4, 0.7, -0.3, 1.3, -0.8, 0.2, 0.9, -1.4, 0.5, -0.1, 1.1, 0.3, -0.9, 0.6, -0.4, 1.2,
         0.0, -1.2, 0.8, 0.4, -0.6, 1.0, -0.2, 0.5, -1.0, 0.9, 0.1, -0.5, 1.4, -0.7, 0.3, 0.6, -1.3, 0.8, -0.2, 0.4,
         1.1, -0.8, 0.2, -0.4, 0.9, -0.1, 0.5, -0.6]
p23_pa_phase = [0.498, 0.5, 0.502]
p23_pa = [86, 90, 84]

# --- J2225+6535 (flux in units of 1e-3) ---
p24_I = [0.8, -1.2, 1.9, 0.3, -0.9, 1.5, -0.4, 0.6, 2.3, -1.5, 0.9, 0.1, 1.7, -0.7, 0.4, 1.2, -1.1, 0.8, 2.0, -0.3,
         0.5, -1.4, 1.3, 0.2, -0.6, 1.0, 0.4,
         -3.3,
         0.6, 1.4, -0.8, 0.9, 0.2, 1.8, -0.5, 0.7, 1.1, -1.0, 0.4, 1.6, 0.0, 1.2, 2.2, 0.8,
         2.4, 3.8, 4.6, 5.2, 5.6, 7.5, 10.3, 9.8, 10.2, 9.4, 8.2, 7.0, 6.0, 4.2, 2.8, 1.5,
         0.4, -0.8, 1.2, 0.2, -1.3, 0.7, 1.6, -0.4, 2.1, 1.0, 1.8, 0.6, 2.4, 1.3, 0.9, 1.9, 0.2, 1.5, -0.6, 1.0,
         0.4, 1.7, -0.9, 0.8, 0.1, 1.4, -1.2, 0.6, 1.1, -0.5, 1.9, 0.3, 0.9, -0.7, 1.5, 0.5, 1.2, -0.2, 2.0, 0.7, 1.3]
p24_L = [-0.8, 0.5, -1.3, 0.9, 0.1, -1.0, 1.2, -0.4, 0.3, -1.4, 0.7, -0.2, 1.0, -1.1, 0.4, -0.6, 1.6, -0.9, 0.2, -1.2,
         0.8, 0.0, -0.7, 1.1, -1.5, 0.3, -0.3, 0.9, -1.0, 0.5, 1.3, -0.6, 0.1, -1.2, 0.8, 0.4, -0.9, 1.0, -0.3, 0.6,
         1.2, -0.4, 0.9, 1.5,
         1.0, 1.8, 2.2, 2.0, 2.8, 3.2, 3.8, 5.6, 5.4, 4.8, 4.0, 3.0, 2.2, 1.5, 0.8, 0.2,
         -0.6, 0.9, -1.1, 0.4, 1.2, -0.8, 0.2, 1.4, -0.5, 1.8, 0.6, 2.0, 0.8, -0.3, 1.5, 0.4, 1.1, -0.9, 0.7, 0.1,
         1.3, -0.6, 0.5, 1.6, -1.0, 0.3, 0.9, -0.4, 1.2, 0.0, -1.1, 0.8, 0.5, 1.4, -0.7, 0.6, 1.0, -0.2, 0.4, 1.1, 0.2]
p24_V = [0.5, -0.7, 1.1, -1.2, 0.3, 0.9, -0.5, 1.4, -0.9, 0.2, 1.0, -1.3, 0.6, -0.2, 1.2, 0.4, -0.8, 0.7, -1.4, 0.9,
         0.1, 1.3, -0.6, 0.5, -1.0, 1.6, 0.2, -0.4, 0.8, -1.1, 1.0, 0.3, -0.7, 1.2, 0.0, -0.9, 0.6, 1.4, -0.3, 0.8,
         0.4, 1.1, -0.5, 0.9,
         0.3, 1.2, 0.6, 1.5, 0.8, 1.9, 0.4, 1.1, -0.4, 0.7, -0.9, 0.2, -1.2, -0.5, -1.5, -0.8,
         0.6, -1.0, 0.9, 0.2, -0.6, 1.3, -0.3, 0.5, -1.1, 0.8, 0.1, 1.0, -0.7, 0.4, -1.4, 0.7, 1.2, -0.2, 0.9, -0.8,
         0.3, 1.1, -0.5, 0.6, -1.2, 0.8, 0.0, -0.9, 1.4, 0.2, -0.6, 1.0, -0.3, 0.7, -1.0, 0.5, 1.2, -0.4, 0.8, 0.1, 0.6]
p24_pa_phase = [0.497, 0.499, 0.501, 0.503, 0.505]
p24_pa = [48, 60, 52, 70, 78]

# --- J2306+5547 (flux in units of 1e-3) ---
p25_I = [1.5, -0.8, 0.6, 2.0, -1.3, 0.9, 0.2, 2.5, -0.5, 1.1, -1.6, 0.4, 1.3, -0.2, 0.8, -1.0, 1.7, 0.3, -0.7, 1.0,
         0.5, -1.2, 1.4, 0.1, 0.7, -0.4, 1.8, 0.6, 0.2, 1.2, -0.3, 0.9, 1.6, 0.4, 1.0, 0.8,
         1.5, 3.0, 6.0, 7.2, 4.2, 3.9, 3.0, 2.5, 5.2, 3.0, 2.5, 1.8, 2.8, 5.0, 6.5, 9.6, 12.6, 13.8, 12.0, 8.5,
         5.5, 2.5, 1.2,
         0.6, -0.9, 1.3, 0.2, -0.5, 1.5, 0.8, -1.1, 0.4, 1.0, -0.3, 1.9, 0.1, -0.8, 1.2, 0.5, -1.4, 0.9, 1.6, -0.2,
         0.7, 0.3, -1.0, 1.4, 0.0, 0.8, -0.6, 1.1, 1.7, -0.4, 0.6, 0.2, 1.3, -0.9, 0.9, 1.5, -0.1, 0.4, -1.2, 1.0,
         0.5, -0.3]
p25_L = [2.0, 0.5, -1.0, 1.4, -0.3, 0.9, 2.2, -1.2, 0.6, -0.5, 1.7, 0.2, -1.4, 1.1, 0.4, -0.8, 1.5, 0.0, 0.9, -1.1,
         1.3, 0.3, -0.6, 2.1, 0.7, -1.3, 0.5, 1.2, -0.2, 0.8, 1.6, -0.9, 0.4, 1.0, -0.4, 1.3,
         0.6, -0.2, 1.2, 0.4, 1.6, -0.5, 0.9, 1.4, 0.2, 1.1, -0.3, 1.5, 0.8, 1.9, 2.4, 3.2, 2.6, 3.0, 2.2, 1.2,
         0.5, -0.4, 0.8,
         -1.0, 1.4, 0.3, -0.7, 1.8, 0.5, -1.2, 0.9, 1.5, -0.4, 0.2, 2.0, -0.8, 0.7, 1.3, -1.5, 0.6, 1.0, -0.3, 1.7,
         0.1, -1.1, 1.2, 0.4, -0.6, 1.9, 0.8, -1.3, 0.5, 1.4, -0.2, 0.9, 2.2, -0.9, 0.3, 1.1, -0.5, 1.6, 0.0, 0.8,
         -0.7, 1.0]
p25_V = [0.8, -1.5, 1.2, -0.6, 0.4, -1.2, 1.0, -0.2, 0.7, -1.8, 0.3, 1.1, -0.9, 0.5, -0.4, 1.3, -1.1, 0.2, 0.9, -0.7,
         0.6, -1.4, 0.4, 1.0, -0.5, 0.2, -1.0, 0.8, 1.2, -0.3, 0.5, -1.2, 0.7, 0.0, -0.8, 0.9,
         0.3, -0.6, 1.0, -0.2, 0.5, 1.2, -0.9, 0.4, 0.8, -0.4, 1.1, 0.2, -0.7, 0.9, 0.3, 1.4, 0.6, -0.3, 0.8, 0.1,
         -1.0, 0.5, -0.5,
         1.0, -0.8, 0.3, -1.3, 0.6, 1.1, -0.4, 0.7, -2.0, 0.2, 0.9, -0.6, 1.2, -1.1, 0.5, 0.0, 1.3, -0.9, 0.4, -0.2,
         1.0, -1.5, 0.6, 0.8, -0.7, 0.3, 1.1, -1.2, 0.5, -0.3, 0.9, -1.6, 0.4, 0.7, -0.5, 1.2, -0.9, 0.2, -1.8, 0.6,
         -0.4, 0.3]
p25_pa_phase = []
p25_pa = []

# Flux-axis settings per panel: (range, major tick values, tick labels, minor step)
SCI5 = "5×10<sup>−3</sup>"
FLUX_AXES = [
    ([-0.0027, 0.0193], [0, 0.005, 0.01, 0.015], ["0", SCI5, "0.01", "0.015"], 0.001),
    ([-0.047, 0.35], [0, 0.1, 0.2, 0.3], None, 0.02),
    ([-0.04, 0.303], [0, 0.1, 0.2, 0.3], None, 0.02),
    ([-0.045, 0.283], [0, 0.1, 0.2], None, 0.02),
    ([-0.047, 0.333], [0, 0.1, 0.2, 0.3], None, 0.02),
    ([-0.038, 0.444], [0, 0.1, 0.2, 0.3, 0.4], None, 0.02),
    ([-0.05, 0.59], [0, 0.2, 0.4], None, 0.05),
    ([-0.069, 0.994], [0, 0.5], None, 0.1),
    ([-0.09, 1.265], [0, 0.5, 1], None, 0.1),
    ([-0.034, 0.405], [0, 0.1, 0.2, 0.3, 0.4], None, 0.02),
    ([-0.05, 0.552], [0, 0.2, 0.4], None, 0.05),
    ([-0.027, 0.241], [0, 0.1, 0.2], None, 0.02),
    ([-0.033, 0.302], [0, 0.1, 0.2, 0.3], None, 0.02),
    ([-0.07, 0.64], [0, 0.2, 0.4], None, 0.05),
    ([-0.009, 0.053], [0, 0.02, 0.04], None, 0.005),
    ([-0.0144, 0.0806], [0, 0.05], None, 0.01),
    ([-0.014, 0.094], [0, 0.05], None, 0.01),
    ([-0.0137, 0.0842], [0, 0.02, 0.04, 0.06, 0.08], None, 0.005),
    ([-0.0138, 0.093], [0, 0.05], None, 0.01),
    ([-0.045, 0.305], [0, 0.1, 0.2, 0.3], None, 0.02),
    ([-0.0039, 0.0335], [0, 0.01, 0.02, 0.03], None, 0.002),
    ([-0.0045, 0.0375], [0, 0.01, 0.02, 0.03], None, 0.002),
    ([-0.0046, 0.0298], [0, 0.01, 0.02], None, 0.002),
    ([-0.0046, 0.0117], [0, 0.005, 0.01], ["0", SCI5, "0.01"], 0.001),
    ([-0.0039, 0.0151], [0, 0.005, 0.01, 0.015], ["0", SCI5, "0.01", "0.015"], 0.001),
]

# Table of the 25 observations built from the arrays above
g = globals()
PANELS = []
for k in range(25):
    tag = f"p{k + 1:02d}"
    fine = tag + "_phase" not in g
    PANELS.append(dict(
        name=PSR_NAMES[k],
        phase=PHASE_101 if fine else g[tag + "_phase"],
        unit=1e-3 if fine else 1.0,
        I=g[tag + "_I"], L=g[tag + "_L"], V=g[tag + "_V"],
        pa_phase=g[tag + "_pa_phase"], pa=g[tag + "_pa"],
    ))
    p = PANELS[-1]
    for key in ("I", "L", "V"):
        assert len(p[key]) == len(p["phase"]), (tag, key, len(p[key]), len(p["phase"]))
    assert len(p["pa"]) == len(p["pa_phase"]), (tag, "pa")

# ---------------------------------------------------------------------------
# Figure layout: 5 x 5 grid, each cell = P.A. panel above a flux panel
# ---------------------------------------------------------------------------
W, H = 1994, 1531
ROW_Y = [(13, 84, 252), (322, 395, 565), (632, 707, 877), (945, 1018, 1189), (1267, 1329, 1501)]
COL_X = [(49, 378), (451, 779), (853, 1181), (1255, 1582), (1656, 1981)]
PA_TOP_OVERRIDE = {23: 1257}

FG = "white"
BG = "black"
FONT = "DejaVu Serif"
C_I = "#ffffff"
C_L = "#a8308a"
C_V = "#5db6de"


def axkey(kind, n):
    return f"{kind}axis" if n == 1 else f"{kind}axis{n}"


def axref(kind, n):
    return kind if n == 1 else f"{kind}{n}"


def base_axis():
    return dict(showline=True, linecolor=FG, linewidth=1.3, mirror="allticks", ticks="inside",
                tickcolor=FG, tickwidth=1.1, ticklen=6, showgrid=False, zeroline=False,
                tickfont=dict(family=FONT, size=10, color=FG), layer="above traces")


def minor(step, start):
    return dict(ticks="inside", ticklen=3, tickcolor=FG, tickwidth=1, tickmode="linear",
                tick0=start, dtick=step, showgrid=False)


fig = go.Figure()
layout = dict(width=W, height=H, margin=dict(l=0, r=0, t=0, b=0), paper_bgcolor=BG,
              plot_bgcolor=BG, showlegend=False, annotations=[])

for k, p in enumerate(PANELS):
    r, c = divmod(k, 5)
    top, mid, bot = ROW_Y[r]
    top = PA_TOP_OVERRIDE.get(k, top)
    x0, x1 = COL_X[c]
    na, nf = 2 * k + 1, 2 * k + 2
    xdom = [x0 / W, x1 / W]

    # position-angle panel
    xa = base_axis()
    xa.update(domain=xdom, range=[0.3, 0.7], anchor=axref("y", na), tickmode="array",
              tickvals=[0.4, 0.5, 0.6, 0.7], showticklabels=False, minor=minor(0.02, 0.3))
    ya = base_axis()
    ya.update(domain=[1 - mid / H, 1 - top / H], range=[-92, 92], anchor=axref("x", na),
              tickmode="array", tickvals=[-60, 0, 60], ticktext=["−60", "0", "60"], tickangle=-90,
              minor=minor(20, 0),
              title=dict(text="P.A. (deg.)", font=dict(family=FONT, size=11, color=FG), standoff=5))
    layout[axkey("x", na)] = xa
    layout[axkey("y", na)] = ya

    # flux panel
    yr, tv, tt, mstep = FLUX_AXES[k]
    if tt is None:
        tt = [f"{v:g}" for v in tv]
    xf = base_axis()
    xf.update(domain=xdom, range=[0.3, 0.7], anchor=axref("y", nf), tickmode="array",
              tickvals=[0.4, 0.5, 0.6, 0.7], ticktext=["0.4", "0.5", "0.6", "0.7"],
              minor=minor(0.02, 0.3),
              title=dict(text="Pulse Phase", font=dict(family=FONT, size=11, color=FG), standoff=3))
    yf = base_axis()
    yf.update(domain=[1 - bot / H, 1 - mid / H], range=yr, anchor=axref("x", nf), tickmode="array",
              tickvals=tv, ticktext=tt, tickangle=-90, minor=minor(mstep, 0),
              title=dict(text="Flux", font=dict(family=FONT, size=11, color=FG), standoff=5))
    layout[axkey("x", nf)] = xf
    layout[axkey("y", nf)] = yf

    # traces (the P.A. trace is always added so that its panel is drawn even when empty)
    fig.add_trace(go.Scatter(x=p["pa_phase"], y=p["pa"], mode="markers",
                             marker=dict(size=2, color=FG),
                             error_y=dict(type="constant", value=2.5, color=FG, thickness=1, width=0),
                             xaxis=axref("x", na), yaxis=axref("y", na), hoverinfo="skip"))
    ph = np.asarray(p["phase"], dtype=float)
    for key, col in (("I", C_I), ("L", C_L), ("V", C_V)):
        fig.add_trace(go.Scatter(x=ph, y=np.asarray(p[key], dtype=float) * p["unit"], mode="lines",
                                 line=dict(color=col, width=1.4),
                                 xaxis=axref("x", nf), yaxis=axref("y", nf), hoverinfo="skip"))

    # labels inside the flux panel
    layout["annotations"].append(dict(text=p["name"], xref=f"{axref('x', nf)} domain",
                                      yref=f"{axref('y', nf)} domain", x=0.04, y=0.905,
                                      xanchor="left", yanchor="middle", showarrow=False,
                                      font=dict(family=FONT, size=10, color=FG)))
    layout["annotations"].append(dict(text=FREQ_LABEL, xref=f"{axref('x', nf)} domain",
                                      yref=f"{axref('y', nf)} domain", x=0.96, y=0.905,
                                      xanchor="right", yanchor="middle", showarrow=False,
                                      font=dict(family=FONT, size=10, color=FG)))

fig.update_layout(**layout)
fig.write_html("out.html")
